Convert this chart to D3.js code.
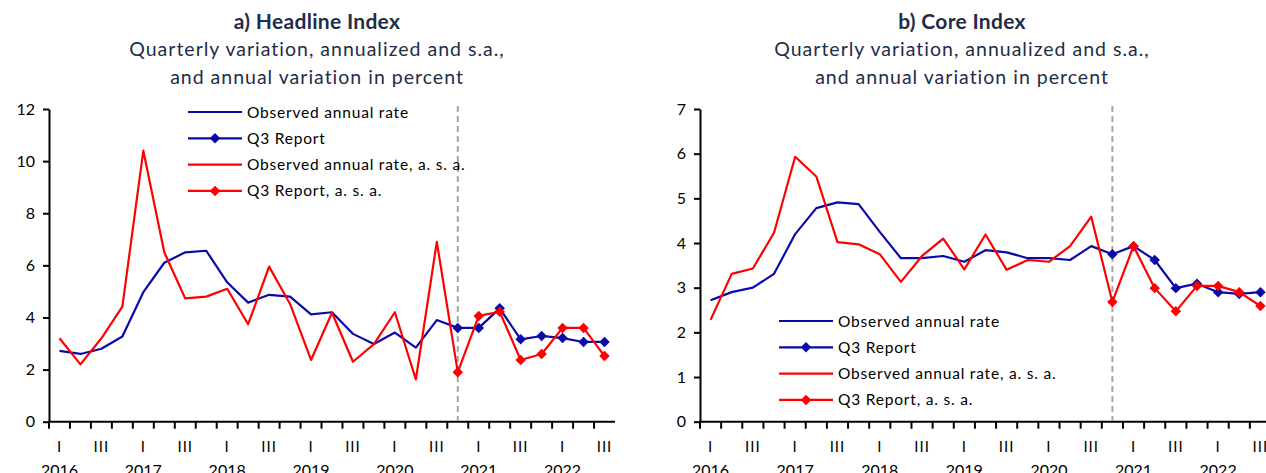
<!DOCTYPE html>
<html>
<head>
<meta charset="utf-8">
<script src="https://cdn.jsdelivr.net/npm/d3@7"></script>
<style>
  body { margin: 0; background: #fff; }
  text { font-family: Lato, "Open Sans", sans-serif; }
</style>
</head>
<body>
<div id="chart"></div>
<script>
// Quarters on the x axis, 2016 I to 2022 III
var quarters = ["2016 I", "2016 II", "2016 III", "2016 IV",
  "2017 I", "2017 II", "2017 III", "2017 IV",
  "2018 I", "2018 II", "2018 III", "2018 IV",
  "2019 I", "2019 II", "2019 III", "2019 IV",
  "2020 I", "2020 II", "2020 III", "2020 IV",
  "2021 I", "2021 II", "2021 III", "2021 IV",
  "2022 I", "2022 II", "2022 III"];
var observedQuarters = quarters.slice(0, 20);
var reportQuarters = quarters.slice(19);
var quarterTickLabels = {"I": "I", "III": "III"};
var yearLabels = ["2016", "2017", "2018", "2019", "2020", "2021", "2022"];

// a) Headline index
var headlineObs = [2.72, 2.6, 2.8, 3.27, 4.97, 6.1, 6.5, 6.56, 5.35, 4.57, 4.87, 4.8, 4.12, 4.2, 3.37, 2.98, 3.42, 2.84, 3.9, 3.6];
var headlineQ3 = [3.6, 3.6, 4.35, 3.16, 3.29, 3.21, 3.06, 3.06];
var headlineObsAsa = [3.2, 2.2, 3.2, 4.42, 10.4, 6.5, 4.73, 4.8, 5.1, 3.74, 5.95, 4.52, 2.37, 4.18, 2.3, 2.98, 4.2, 1.62, 6.9, 1.9];
var headlineQ3Asa = [1.9, 4.06, 4.22, 2.37, 2.6, 3.6, 3.6, 2.52];
var headlineTicks = [0, 2, 4, 6, 8, 10, 12];

// b) Core index
var coreObs = [2.72, 2.9, 3.0, 3.31, 4.2, 4.78, 4.91, 4.87, 4.25, 3.66, 3.66, 3.71, 3.58, 3.84, 3.79, 3.66, 3.66, 3.62, 3.93, 3.75];
var coreQ3 = [3.75, 3.93, 3.62, 2.99, 3.09, 2.9, 2.86, 2.9];
var coreObsAsa = [2.28, 3.31, 3.43, 4.23, 5.93, 5.49, 4.02, 3.97, 3.75, 3.13, 3.71, 4.1, 3.41, 4.19, 3.4, 3.62, 3.58, 3.93, 4.59, 2.68];
var coreQ3Asa = [2.68, 3.93, 2.99, 2.47, 3.04, 3.04, 2.9, 2.59];
var coreTicks = [0, 1, 2, 3, 4, 5, 6, 7];

var legendLabels = ["Observed annual rate", "Q3 Report", "Observed annual rate, a. s. a.", "Q3 Report, a. s. a."];

var blue = "#0a0aa8";
var red = "#ff0000";
var titleColor = "#1f2d4a";

var svgWidth = 1266;
var svgHeight = 473;

var svg = d3.select("#chart")
  .append("svg")
  .attr("width", svgWidth)
  .attr("height", svgHeight);

function drawPanel(p) {
  var g = svg.append("g");

  var x = d3.scaleBand()
    .domain(quarters)
    .range([p.left, p.right])
    .paddingInner(0)
    .paddingOuter(0);
  var cx = d => x(d) + x.bandwidth() / 2;

  var y = d3.scaleLinear()
    .domain([0, p.yMax])
    .range([421.7, 109]);

  // titles
  g.append("text")
    .attr("x", p.titleX)
    .attr("y", 29)
    .attr("text-anchor", "middle")
    .attr("font-size", 21)
    .attr("font-weight", "bold")
    .attr("letter-spacing", 0.3)
    .attr("fill", titleColor)
    .text(p.title);
  g.append("text")
    .attr("x", p.titleX)
    .attr("y", 56)
    .attr("text-anchor", "middle")
    .attr("font-size", 19.5)
    .attr("letter-spacing", 1)
    .attr("fill", titleColor)
    .text("Quarterly variation, annualized and s.a.,");
  g.append("text")
    .attr("x", p.titleX)
    .attr("y", 84)
    .attr("text-anchor", "middle")
    .attr("font-size", 19.5)
    .attr("letter-spacing", 1)
    .attr("fill", titleColor)
    .text("and annual variation in percent");

  // y axis
  var yAxis = g.append("g")
    .attr("transform", `translate(${p.left},0)`)
    .call(d3.axisLeft(y).tickValues(p.ticks).tickFormat(d3.format("d"))
      .tickSize(6).tickSizeOuter(0).tickPadding(8));
  yAxis.select(".domain").attr("stroke", "#000").attr("stroke-width", 2);
  yAxis.selectAll(".tick line").attr("stroke", "#000").attr("stroke-width", 2);
  yAxis.selectAll(".tick text").attr("font-size", 16).attr("fill", "#000")
    .style("font-family", "Lato, sans-serif");

  // x axis: tick marks at the quarter boundaries
  var xAxis = g.append("g")
    .attr("transform", `translate(0,421.7)`);
  xAxis.append("line")
    .attr("x1", p.left - 1)
    .attr("x2", p.right)
    .attr("stroke", "#000")
    .attr("stroke-width", 2);
  xAxis.selectAll(".qtick")
    .data(quarters)
    .enter()
    .append("line")
    .attr("x1", d => x(d))
    .attr("x2", d => x(d))
    .attr("y1", 0)
    .attr("y2", 7)
    .attr("stroke", "#000")
    .attr("stroke-width", 2);
  xAxis.selectAll(".qlabel")
    .data(quarters.filter(d => quarterTickLabels[d.split(" ")[1]]))
    .enter()
    .append("text")
    .attr("x", cx)
    .attr("y", 30)
    .attr("text-anchor", "middle")
    .attr("font-size", 15)
    .attr("letter-spacing", 1)
    .text(d => quarterTickLabels[d.split(" ")[1]]);
  xAxis.selectAll(".ylabel")
    .data(yearLabels)
    .enter()
    .append("text")
    .attr("x", d => cx(d + " I"))
    .attr("y", 54)
    .attr("text-anchor", "middle")
    .attr("font-size", 16)
    .text(d => d);

  // dashed line at the start of the report
  g.append("line")
    .attr("x1", cx(reportQuarters[0]))
    .attr("x2", cx(reportQuarters[0]))
    .attr("y1", 106)
    .attr("y2", 421)
    .attr("stroke", "#a6a6a6")
    .attr("stroke-width", 2)
    .attr("stroke-dasharray", "6,4");

  var line = d3.line()
    .x(d => cx(d.q))
    .y(d => y(d.v));

  var series = [
    {q: observedQuarters, v: p.obs, color: blue, marker: false},
    {q: reportQuarters, v: p.q3, color: blue, marker: true},
    {q: observedQuarters, v: p.obsAsa, color: red, marker: false},
    {q: reportQuarters, v: p.q3Asa, color: red, marker: true}
  ];

  var diamond = d3.symbol().type(d3.symbolDiamond2).size(70);

  series.forEach(function(s) {
    var pts = s.q.map((q, i) => ({q: q, v: s.v[i]}));
    g.append("path")
      .datum(pts)
      .attr("d", line)
      .attr("fill", "none")
      .attr("stroke", s.color)
      .attr("stroke-width", 2.2)
      .attr("stroke-linejoin", "round");
    if (s.marker) {
      g.selectAll(null)
        .data(pts)
        .enter()
        .append("path")
        .attr("d", diamond)
        .attr("transform", d => `translate(${cx(d.q)},${y(d.v)})`)
        .attr("fill", s.color);
    }
  });

  // legend
  var legend = g.append("g")
    .attr("transform", `translate(${p.legendX},${p.legendY})`);
  legendLabels.forEach(function(label, i) {
    var s = series[i];
    var row = legend.append("g").attr("transform", `translate(0,${i * 26.3})`);
    row.append("line")
      .attr("x1", 0)
      .attr("x2", 54)
      .attr("stroke", s.color)
      .attr("stroke-width", 2.2);
    if (s.marker) {
      row.append("path")
        .attr("d", diamond)
        .attr("transform", "translate(27,0)")
        .attr("fill", s.color);
    }
    row.append("text")
      .attr("x", 59)
      .attr("y", 5.5)
      .attr("font-size", 15.5)
      .attr("letter-spacing", 0.8)
      .attr("fill", "#000")
      .text(label);
  });
}

drawPanel({
  title: "a) Headline Index",
  titleX: 317,
  left: 49,
  right: 615,
  yMax: 12,
  ticks: headlineTicks,
  obs: headlineObs,
  q3: headlineQ3,
  obsAsa: headlineObsAsa,
  q3Asa: headlineQ3Asa,
  legendX: 188,
  legendY: 112
});

drawPanel({
  title: "b) Core Index",
  titleX: 962,
  left: 700,
  right: 1271,
  yMax: 7,
  ticks: coreTicks,
  obs: coreObs,
  q3: coreQ3,
  obsAsa: coreObsAsa,
  q3Asa: coreQ3Asa,
  legendX: 779,
  legendY: 321
});
</script>
</body>
</html>
